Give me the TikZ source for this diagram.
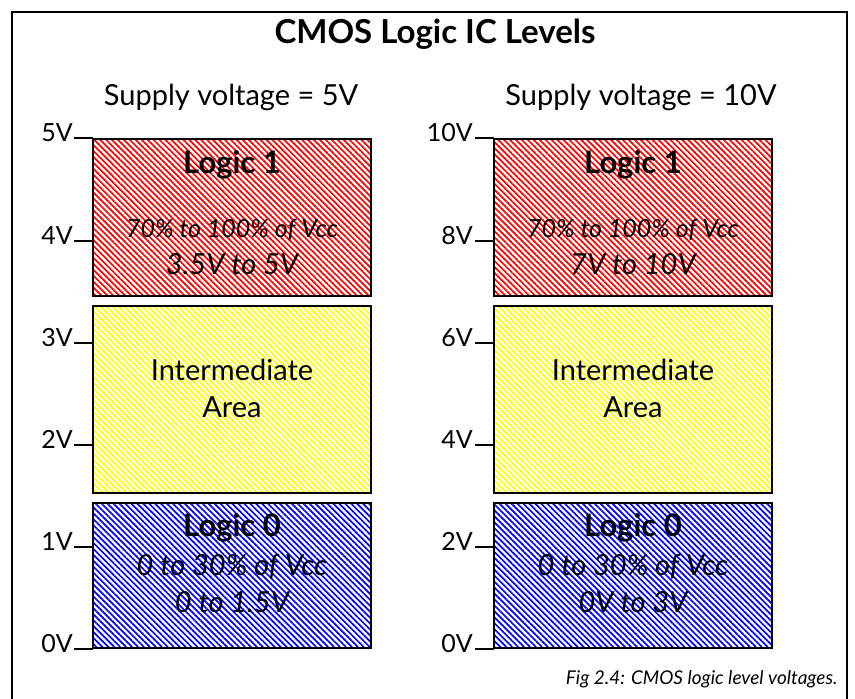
\documentclass[tikz,border=0pt]{standalone}
\usepackage{fontspec}
\setmainfont{Lato}
\usetikzlibrary{patterns.meta}
\begin{document}
\begin{tikzpicture}[x=1pt,y=-1pt,
  frameline/.style={line width=2.6pt, line cap=rect},
  lvlbox/.style={draw, line width=2.8pt, anchor=north west, minimum width=278pt, inner sep=0pt, outer sep=0pt},
  hatch/.style={preaction={fill=white}, pattern={Lines[angle=-45, distance=4.2pt, line width=1.7pt]}, pattern color=#1},
  tick/.style={line width=1.6pt},
  ticklbl/.style={anchor=base east, inner sep=0pt, font=\fontsize{25}{25}\selectfont},
  title/.style={font=\fontsize{33}{33}\bfseries\selectfont},
  supply/.style={font=\fontsize{29}{29}\selectfont},
  boldtxt/.style={font=\fontsize{31}{31}\bfseries\selectfont},
  smallit/.style={font=\fontsize{25}{25}\itshape\selectfont},
  bigit/.style={font=\fontsize{29}{29}\itshape\selectfont},
  plain/.style={font=\fontsize{29}{29}\selectfont},
  caption/.style={font=\fontsize{19}{19}\itshape\selectfont}]
\useasboundingbox (0,0) rectangle (855,699);
\fill[white] (0,0) rectangle (855,699);
% frame
\draw[frameline] (12,699) -- (12,12) -- (847,12) -- (847,699);
% titles
\node[title] (ttl) at (435,34) {CMOS Logic IC Levels};
\node[supply] (s5) at (231,97) {Supply voltage = 5V};
\node[supply] (s10) at (641,97) {Supply voltage = 10V};
% left column boxes
\node[lvlbox, hatch=red, minimum height=157pt] (r5) at (93,139) {};
\node[lvlbox, hatch=yellow, minimum height=187pt] (y5) at (93,306) {};
\node[lvlbox, hatch=blue, minimum height=145pt] (b5) at (93,503) {};
% right column boxes
\node[lvlbox, hatch=red, minimum height=157pt] (r10) at (494,139) {};
\node[lvlbox, hatch=yellow, minimum height=187pt] (y10) at (494,306) {};
\node[lvlbox, hatch=blue, minimum height=145pt] (b10) at (494,503) {};
% left column texts
\node[boldtxt] (l1a) at (232,165) {Logic 1};
\node[smallit] (l1b) at (232,230) {70\% to 100\% of Vcc};
\node[bigit] (l1c) at (232,264) {3.5V to 5V};
\node[plain] (ima) at (232,370) {Intermediate};
\node[plain] (imb) at (232,407) {Area};
\node[boldtxt] (l0a) at (232,528) {Logic 0};
\node[bigit] (l0b) at (232,567) {0 to 30\% of Vcc};
\node[bigit] (l0c) at (232,602) {0 to 1.5V};
% right column texts
\node[boldtxt] (r1a) at (633,165) {Logic 1};
\node[smallit] (r1b) at (633,230) {70\% to 100\% of Vcc};
\node[bigit] (r1c) at (633,264) {7V to 10V};
\node[plain] (rma) at (633,370) {Intermediate};
\node[plain] (rmb) at (633,407) {Area};
\node[boldtxt] (r0a) at (633,528) {Logic 0};
\node[bigit] (r0b) at (633,567) {0 to 30\% of Vcc};
\node[bigit] (r0c) at (633,602) {0V to 3V};
% left ticks
\foreach \v/\yy in {5/138,4/241,3/343,2/445,1/547,0/649}{
  \draw[tick] (74,\yy) -- (93,\yy);
  \node[ticklbl] at (73,\yy+3) {\v V};
}
% right ticks
\foreach \v/\yy in {10/138,8/241,6/343,4/445,2/547,0/649}{
  \draw[tick] (475,\yy) -- (494,\yy);
  \node[ticklbl] at (473,\yy+3) {\v V};
}
% caption
\node[caption, anchor=east] (cap) at (841,679) {Fig 2.4: CMOS logic level voltages.};
\end{tikzpicture}
\end{document}
